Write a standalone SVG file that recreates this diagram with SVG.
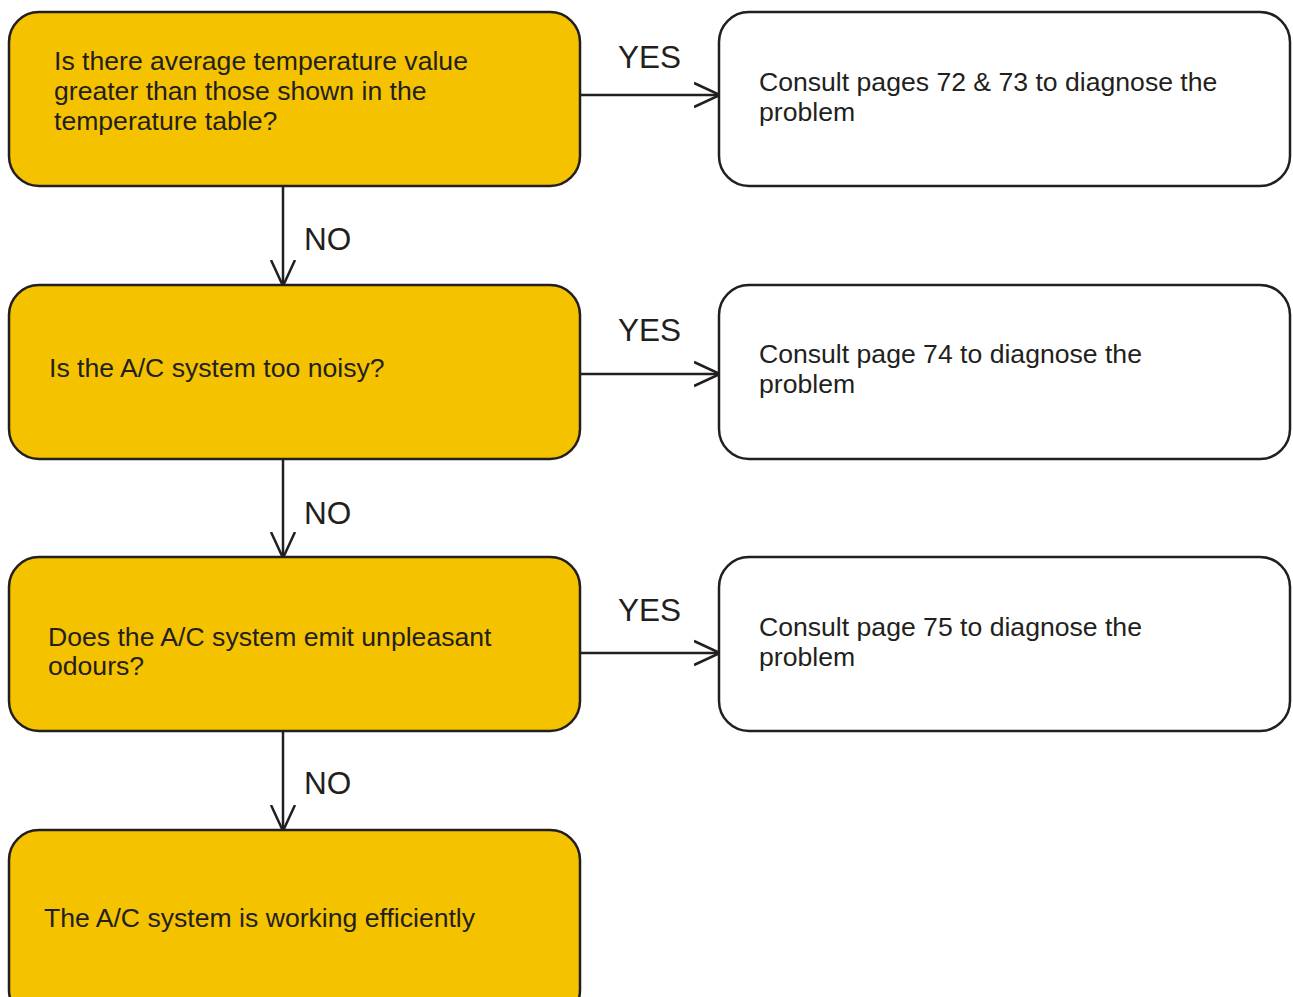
<svg xmlns="http://www.w3.org/2000/svg" width="1293" height="997" viewBox="0 0 1293 997">
<defs>
<style>
.q{fill:#f5c200;stroke:#231f20;stroke-width:2.5}
.a{fill:#fff;stroke:#231f20;stroke-width:2.5}
.t{font-family:"Liberation Sans",Arial,sans-serif;font-size:26.6px;fill:#231f20}
.l{font-family:"Liberation Sans",Arial,sans-serif;font-size:31.5px;fill:#231f20}
.c{fill:none;stroke:#231f20;stroke-width:2.5}
</style>
<marker id="ah" viewBox="0 0 30 30" refX="26" refY="15" markerWidth="30" markerHeight="30" markerUnits="userSpaceOnUse" orient="auto">
<path d="M0,3 L26,15 L0,27" fill="none" stroke="#231f20" stroke-width="2.5"/>
</marker>
</defs>
<rect width="1293" height="997" fill="#fff"/>
<g id="connectors">
<line class="c" x1="581" y1="95" x2="720" y2="95" marker-end="url(#ah)"/>
<line class="c" x1="581" y1="374" x2="720" y2="374" marker-end="url(#ah)"/>
<line class="c" x1="581" y1="653" x2="720" y2="653" marker-end="url(#ah)"/>
<line class="c" x1="283" y1="186" x2="283" y2="286" marker-end="url(#ah)"/>
<line class="c" x1="283" y1="459" x2="283" y2="558" marker-end="url(#ah)"/>
<line class="c" x1="283" y1="731" x2="283" y2="831" marker-end="url(#ah)"/>
<text class="l" x="618" y="68">YES</text>
<text class="l" x="618" y="341">YES</text>
<text class="l" x="618" y="621">YES</text>
<text class="l" x="304" y="250">NO</text>
<text class="l" x="304" y="524">NO</text>
<text class="l" x="304" y="794">NO</text>
</g>
<g id="q1">
<rect class="q" x="9" y="12" width="571" height="174" rx="30"/>
<text class="t" x="54" y="70">Is there average temperature value</text>
<text class="t" x="54" y="100">greater than those shown in the</text>
<text class="t" x="54" y="130">temperature table?</text>
</g>
<g id="a1">
<rect class="a" x="719" y="12" width="571" height="174" rx="30"/>
<text class="t" x="759" y="91">Consult pages 72 &amp; 73 to diagnose the</text>
<text class="t" x="759" y="121">problem</text>
</g>
<g id="q2">
<rect class="q" x="9" y="285" width="571" height="174" rx="30"/>
<text class="t" x="49" y="377">Is the A/C system too noisy?</text>
</g>
<g id="a2">
<rect class="a" x="719" y="285" width="571" height="174" rx="30"/>
<text class="t" x="759" y="363">Consult page 74 to diagnose the</text>
<text class="t" x="759" y="393">problem</text>
</g>
<g id="q3">
<rect class="q" x="9" y="557" width="571" height="174" rx="30"/>
<text class="t" x="48" y="646">Does the A/C system emit unpleasant</text>
<text class="t" x="48" y="675">odours?</text>
</g>
<g id="a3">
<rect class="a" x="719" y="557" width="571" height="174" rx="30"/>
<text class="t" x="759" y="636">Consult page 75 to diagnose the</text>
<text class="t" x="759" y="666">problem</text>
</g>
<g id="q4">
<rect class="q" x="9" y="830" width="571" height="190" rx="30"/>
<text class="t" x="44" y="927">The A/C system is working efficiently</text>
</g>
</svg>
